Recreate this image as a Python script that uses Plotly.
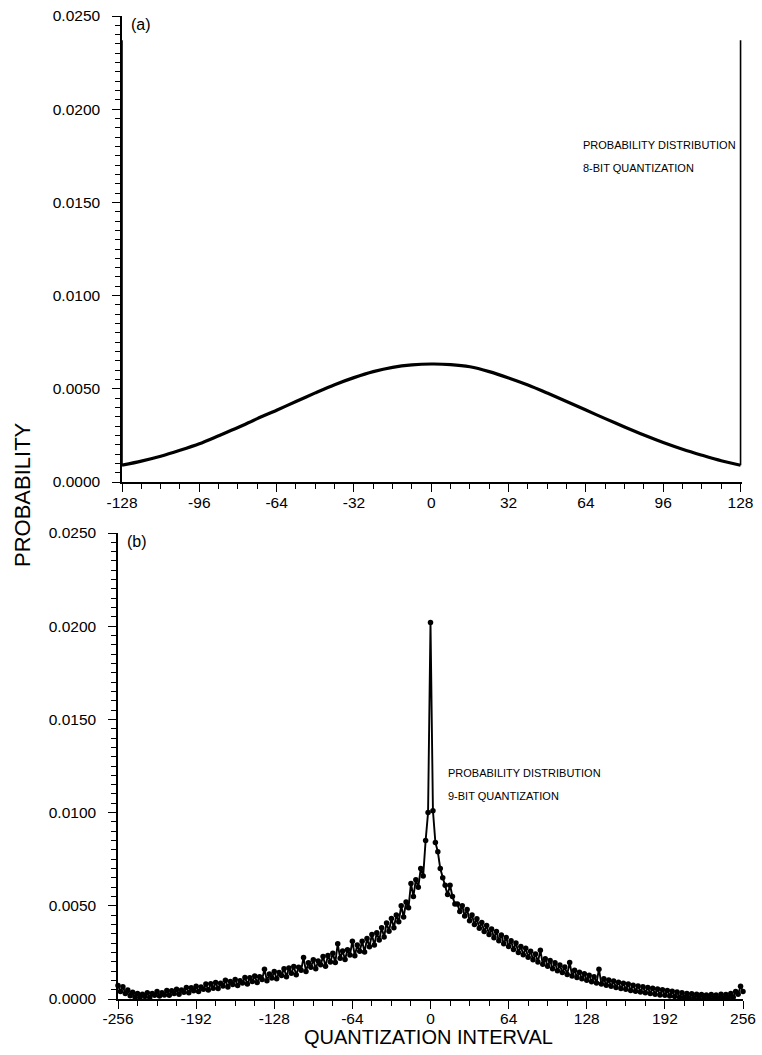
import plotly.graph_objects as go

W, H = 762, 1055

# ---------- Panel (a): 8-bit quantization ----------
A_X = [-128, -120, -112, -104, -96, -88, -80, -72, -64, -56, -48, -40, -32, -24, -16, -8,
       0, 8, 16, 24, 32, 40, 48, 56, 64, 72, 80, 88, 96, 104, 112, 120, 128]
A_Y = [0.00090, 0.00112, 0.00138, 0.00170, 0.00205, 0.00248, 0.00292, 0.00340, 0.00385,
       0.00432, 0.00478, 0.00522, 0.00560, 0.00592, 0.00615, 0.00628, 0.00633, 0.00630,
       0.00618, 0.00592, 0.00558, 0.00520, 0.00477, 0.00432, 0.00386, 0.00340, 0.00295,
       0.00252, 0.00212, 0.00176, 0.00144, 0.00114, 0.00090]
A_EDGE_X = [-128, 128]
A_EDGE_Y = [0.0237, 0.0237]

# ---------- Panel (b): 9-bit quantization (every 2nd interval, -256 .. 256) ----------
B_X = list(range(-256, 257, 2))
B_Y_LEFT = [
    0.00072, 0.00040, 0.00066, 0.00030, 0.00048, 0.00018, 0.00036, 0.00010,
    0.00030, 0.00008, 0.00026, 0.00014, 0.00034, 0.00008, 0.00030, 0.00020,
    0.00040, 0.00016, 0.00034, 0.00022, 0.00046, 0.00020, 0.00044, 0.00030,
    0.00052, 0.00026, 0.00048, 0.00036, 0.00062, 0.00034, 0.00060, 0.00044,
    0.00068, 0.00040, 0.00064, 0.00052, 0.00080, 0.00048, 0.00082, 0.00058,
    0.00088, 0.00056, 0.00084, 0.00070, 0.00100, 0.00064, 0.00094, 0.00078,
    0.00104, 0.00072, 0.00098, 0.00086, 0.00116, 0.00080, 0.00114, 0.00094,
    0.00124, 0.00088, 0.00120, 0.00104, 0.00160, 0.00098, 0.00134, 0.00112,
    0.00148, 0.00108, 0.00142, 0.00126, 0.00162, 0.00120, 0.00166, 0.00138,
    0.00174, 0.00130, 0.00170, 0.00154, 0.00222, 0.00148, 0.00194, 0.00170,
    0.00210, 0.00162, 0.00204, 0.00184, 0.00228, 0.00176, 0.00234, 0.00198,
    0.00246, 0.00196, 0.00296, 0.00218, 0.00258, 0.00212, 0.00264, 0.00236,
    0.00310, 0.00232, 0.00290, 0.00256, 0.00310, 0.00252, 0.00324, 0.00280,
    0.00346, 0.00290, 0.00356, 0.00316, 0.00382, 0.00332, 0.00408, 0.00364,
    0.00432, 0.00382, 0.00450, 0.00414, 0.00500, 0.00440, 0.00520, 0.00490,
    0.00620, 0.00550, 0.00640, 0.00600, 0.00700, 0.00660, 0.00850, 0.01000,
]
B_Y_CENTER = [0.02020]
B_Y_RIGHT = [
    0.01010, 0.00840, 0.00790, 0.00700, 0.00650, 0.00610, 0.00560, 0.00610,
    0.00550, 0.00510, 0.00510, 0.00470, 0.00500, 0.00445, 0.00480, 0.00420,
    0.00450, 0.00400, 0.00430, 0.00380, 0.00410, 0.00362, 0.00394, 0.00346,
    0.00376, 0.00328, 0.00362, 0.00312, 0.00344, 0.00296, 0.00330, 0.00282,
    0.00312, 0.00266, 0.00300, 0.00250, 0.00282, 0.00238, 0.00272, 0.00224,
    0.00256, 0.00210, 0.00242, 0.00198, 0.00262, 0.00186, 0.00216, 0.00176,
    0.00206, 0.00162, 0.00194, 0.00152, 0.00182, 0.00142, 0.00172, 0.00132,
    0.00196, 0.00124, 0.00154, 0.00116, 0.00144, 0.00108, 0.00136, 0.00100,
    0.00128, 0.00092, 0.00120, 0.00086, 0.00160, 0.00080, 0.00108, 0.00074,
    0.00102, 0.00068, 0.00096, 0.00062, 0.00090, 0.00056, 0.00084, 0.00052,
    0.00080, 0.00046, 0.00074, 0.00042, 0.00070, 0.00038, 0.00066, 0.00034,
    0.00062, 0.00030, 0.00058, 0.00026, 0.00054, 0.00022, 0.00050, 0.00020,
    0.00046, 0.00016, 0.00042, 0.00014, 0.00038, 0.00010, 0.00034, 0.00008,
    0.00030, 0.00006, 0.00028, 0.00004, 0.00026, 0.00004, 0.00024, 0.00004,
    0.00022, 0.00004, 0.00024, 0.00004, 0.00022, 0.00004, 0.00026, 0.00006,
    0.00024, 0.00008, 0.00030, 0.00010, 0.00040, 0.00026, 0.00068, 0.00040,
]
B_Y = B_Y_LEFT + B_Y_CENTER + B_Y_RIGHT

# ---------- Ticks ----------
A_TICKS = [-128, -96, -64, -32, 0, 32, 64, 96, 128]
A_TICK_TEXT = ["-128", "-96", "-64", "-32", "0", "32", "64", "96", "128"]
B_TICKS = [-256, -192, -128, -64, 0, 64, 128, 192, 256]
B_TICK_TEXT = ["-256", "-192", "-128", "-64", "0", "64", "128", "192", "256"]
Y_TICKS = [0.0, 0.005, 0.010, 0.015, 0.020, 0.025]
Y_TICK_TEXT = ["0.0000", "0.0050", "0.0100", "0.0150", "0.0200", "0.0250"]

FONT = "Liberation Sans, Arial, sans-serif"


def px(x):
    return x / W


def py(y):
    return 1 - y / H


fig = go.Figure()

# panel (a) curve
fig.add_trace(go.Scatter(x=A_X, y=A_Y, mode="lines", xaxis="x", yaxis="y",
                         line=dict(color="black", width=3.2, shape="spline", smoothing=0.8),
                         showlegend=False))
# panel (a) edge spikes
for ex, ey, i in zip(A_EDGE_X, A_EDGE_Y, [0, -1]):
    fig.add_trace(go.Scatter(x=[ex, ex], y=[A_Y[i], ey], mode="lines", xaxis="x", yaxis="y",
                             line=dict(color="black", width=1.6), showlegend=False))

# panel (b)
fig.add_trace(go.Scatter(x=B_X, y=B_Y, mode="lines+markers", xaxis="x2", yaxis="y2",
                         line=dict(color="black", width=1.9),
                         marker=dict(color="black", size=5.5),
                         cliponaxis=False, showlegend=False))

axis_common = dict(showline=True, linecolor="black", linewidth=1.5, ticks="outside",
                   tickcolor="black", tickwidth=1.4, ticklen=8, showgrid=False,
                   zeroline=False, tickfont=dict(family=FONT, size=15.5, color="black"),
                   mirror=False, automargin=False)

minor_common = dict(ticks="outside", ticklen=5, tickwidth=1.1, tickcolor="black",
                    showgrid=False, tick0=0)

fig.update_layout(
    width=W, height=H,
    margin=dict(l=0, r=0, t=0, b=0, autoexpand=False),
    paper_bgcolor="white", plot_bgcolor="white",
    xaxis=dict(domain=[px(122), px(742)], range=[-128, 128.6], anchor="y",
               tickvals=A_TICKS, ticktext=A_TICK_TEXT, ticklabelstandoff=-2,
               minor=dict(dtick=8, **minor_common), **axis_common),
    yaxis=dict(domain=[py(482), py(16)], range=[0, 0.025], anchor="x",
               tickvals=Y_TICKS, ticktext=Y_TICK_TEXT, ticklabelstandoff=9,
               minor=dict(dtick=0.0005, **minor_common), **axis_common),
    xaxis2=dict(domain=[px(118), px(743)], range=[-256, 256], anchor="y2",
                tickvals=B_TICKS, ticktext=B_TICK_TEXT, ticklabelstandoff=-3,
                minor=dict(dtick=16, **minor_common), **axis_common),
    yaxis2=dict(domain=[py(999), py(533)], range=[0, 0.025], anchor="x2",
                tickvals=Y_TICKS, ticktext=Y_TICK_TEXT, ticklabelstandoff=9,
                minor=dict(dtick=0.0005, **minor_common), **axis_common),
)

ann_font = dict(family=FONT, size=16, color="black")
txt_font = dict(family=FONT, size=11, color="black")


def note(text, x, y, font, **kw):
    d = dict(text=text, x=px(x), y=py(y), xref="paper", yref="paper",
             xanchor="left", yanchor="middle", showarrow=False, font=font)
    d.update(kw)
    return d


annotations = [
    note("(a)", 129, 24, ann_font),
    note("(b)", 125, 541, ann_font),
    note("PROBABILITY DISTRIBUTION", 581, 145, txt_font),
    note("8-BIT QUANTIZATION", 581, 168, txt_font),
    note("PROBABILITY DISTRIBUTION", 446, 773, txt_font),
    note("9-BIT QUANTIZATION", 446, 796, txt_font),
    note("PROBABILITY", 22, 495, dict(family=FONT, size=22, color="black"),
         xanchor="center", textangle=-90),
    note("QUANTIZATION INTERVAL", 428, 1037, dict(family=FONT, size=20, color="black"),
         xanchor="center"),
]
fig.update_layout(annotations=annotations)

fig.write_html("out.html", config={"displayModeBar": False},
               post_script="document.body.style.margin='0';document.body.style.padding='0';")
